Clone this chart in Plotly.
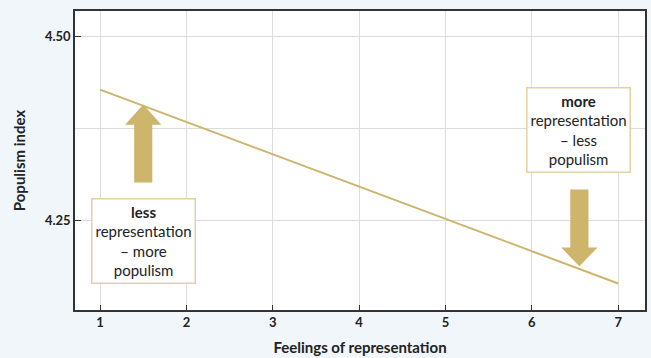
import plotly.graph_objects as go

# Data
x_vals = [1, 7]
y_vals = [4.428, 4.164]
x_ticks = [1, 2, 3, 4, 5, 6, 7]
y_ticks = [4.25, 4.50]
y_tick_text = ["4.25", "4.50"]

GOLD = "#cdb56b"
AXIS = "#333333"
GRID = "#dcdcdc"

fig = go.Figure()
fig.add_trace(go.Scatter(x=x_vals, y=y_vals, mode="lines",
                         line=dict(color=GOLD, width=2), showlegend=False,
                         hoverinfo="skip"))

def arrow_path(xc, y_tail, y_base, y_tip, shaft_w=0.105, head_w=0.21):
    return (f"M {xc-shaft_w} {y_tail} L {xc-shaft_w} {y_base} L {xc-head_w} {y_base} "
            f"L {xc} {y_tip} L {xc+head_w} {y_base} L {xc+shaft_w} {y_base} "
            f"L {xc+shaft_w} {y_tail} Z")

fig.add_shape(type="path", xref="x", yref="y",
              path=arrow_path(1.5, 4.3016, 4.380, 4.4076),
              fillcolor=GOLD, line=dict(width=0), layer="above")
fig.add_shape(type="path", xref="x", yref="y",
              path=arrow_path(6.55, 4.292, 4.213, 4.1875),
              fillcolor=GOLD, line=dict(width=0), layer="above")

ann_font = dict(family="Lato, sans-serif", size=15, color="#222222")
fig.add_annotation(x=1.5, y=4.222, xref="x", yref="y", showarrow=False,
                   text="<b>less</b><br>representation<br>– more<br>populism",
                   font=ann_font, bgcolor="white", bordercolor="#e0d2a4",
                   borderwidth=1.5, borderpad=3, align="center")
fig.add_annotation(x=6.54, y=4.373, xref="x", yref="y", showarrow=False,
                   text="<b>more</b><br>representation<br>– less<br>populism",
                   font=ann_font, bgcolor="white", bordercolor="#e0d2a4",
                   borderwidth=1.5, borderpad=3, align="center")

fig.update_layout(
    width=651, height=358,
    margin=dict(l=75, r=4, t=11, b=47),
    paper_bgcolor="#f1f6fb",
    plot_bgcolor="white",
    font=dict(family="Lato, sans-serif", color="#222222"),
)
fig.update_xaxes(
    range=[0.71, 7.31], tickvals=x_ticks,
    ticks="inside", ticklen=5, tickcolor=AXIS, tickwidth=1,
    showgrid=True, gridcolor=GRID, gridwidth=1, zeroline=False,
    showline=True, linecolor=AXIS, linewidth=1.5, mirror=True,
    tickfont=dict(family="Lato, sans-serif", size=13, color="#222222", weight="bold"),
    title=dict(text="<b>Feelings of representation</b>", standoff=13,
               font=dict(family="Lato, sans-serif", size=15, color="#222222")),
)
fig.update_yaxes(
    range=[4.128, 4.535], tickvals=y_ticks, ticktext=y_tick_text,
    ticks="inside", ticklen=6, tickcolor=AXIS, tickwidth=1,
    showgrid=True, gridcolor=GRID, gridwidth=1, zeroline=False,
    minor=dict(tickvals=[4.375], showgrid=True, gridcolor=GRID, ticks=""),
    showline=True, linecolor=AXIS, linewidth=1.5, mirror=True,
    tickfont=dict(family="Lato, sans-serif", size=13, color="#222222", weight="bold"),
    title=dict(text="<b>Populism index</b>", standoff=16,
               font=dict(family="Lato, sans-serif", size=15, color="#222222")),
)

fig.write_html("out.html", config={"displayModeBar": False},
               post_script="document.body.style.margin='0';")
